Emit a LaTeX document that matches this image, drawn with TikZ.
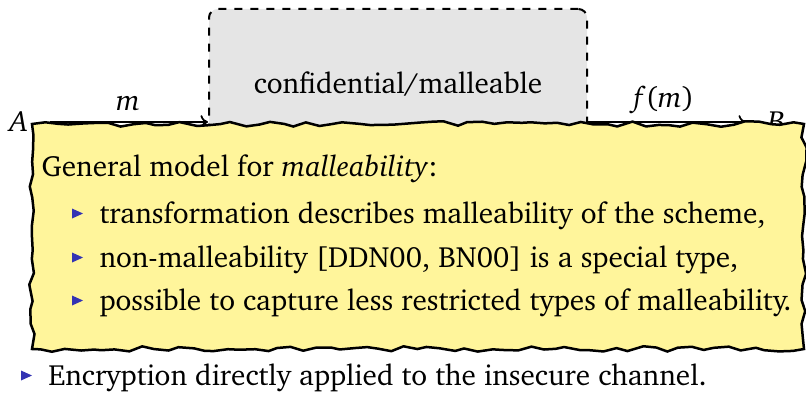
\documentclass[tikz,border=0pt]{standalone}
\usepackage[T1]{fontenc}
\usepackage{charter}
\usetikzlibrary{decorations.pathmorphing,arrows.meta}

\definecolor{noteyellow}{HTML}{FFF59B}
\definecolor{boxgray}{HTML}{E5E5E5}
\definecolor{bulletblue}{HTML}{3333B3}

\tikzset{
  chan/.style={line width=0.7pt,-{To[length=3pt,width=5.5pt]}},
  txt/.style={anchor=base west,inner sep=0pt},
  party/.style={inner sep=0pt},
  note/.style={draw=black,line width=1pt,fill=noteyellow,
    decorate,decoration={random steps,segment length=5pt,amplitude=1.1pt}},
  secbox/.style={draw=black,dash pattern=on 3.2pt off 3.2pt,line width=0.8pt,
    fill=boxgray,rounded corners=3.5pt,inner sep=0pt,
    minimum width=151.2pt,minimum height=90.4pt}
}

\begin{document}
\begin{tikzpicture}[x=0.4pt,y=-0.4pt,font=\fontsize{11.7}{14}\selectfont]
\useasboundingbox (0,0) rectangle (806,393);

% secure channel box and its label
\node[secbox] (sec) at (398,122) {};
\node[anchor=base,inner sep=0pt] (conf) at (398,93) {confidential/malleable};

% parties and messages
\node[party,anchor=base east] (A) at (28,131) {\textit{A}};
\node[party,anchor=base west] (B) at (767,131) {\textit{B}};
\coordinate (aout) at (50,122);
\coordinate (bin) at (746,122);
\draw[chan] (aout) -- (sec.west);
\draw[chan] (sec.east) -- (bin);
\node[anchor=base,inner sep=0pt] (m) at (128,110) {\textit{m}};
\node[anchor=base,inner sep=0pt] (fm) at (664,107) {\textit{f}(\textit{m})};

% overlay note
\pgfmathsetseed{4242}
\path[note] (32,124) -- (804,124) -- (804,349) -- (32,349) -- cycle;

\node[txt] (head) at (41,176) {General model for \emph{malleability}:};
\fill[bulletblue] (72,208.5) -- ++(11,5) -- ++(-11,5) -- cycle;
\node[txt] (i1) at (99,223) {transformation describes malleability of the scheme,};
\fill[bulletblue] (72,252.5) -- ++(11,5) -- ++(-11,5) -- cycle;
\node[txt] (i2) at (99,267) {non-malleability [DDN00, BN00] is a special type,};
\fill[bulletblue] (72,295.5) -- ++(11,5) -- ++(-11,5) -- cycle;
\node[txt] (i3) at (99,310) {possible to capture less restricted types of malleability.};

% bottom bullet
\fill[bulletblue] (21,370.5) -- ++(11,5) -- ++(-11,5) -- cycle;
\node[txt] (enc) at (48,385) {Encryption directly applied to the insecure channel.};
\end{tikzpicture}
\end{document}
